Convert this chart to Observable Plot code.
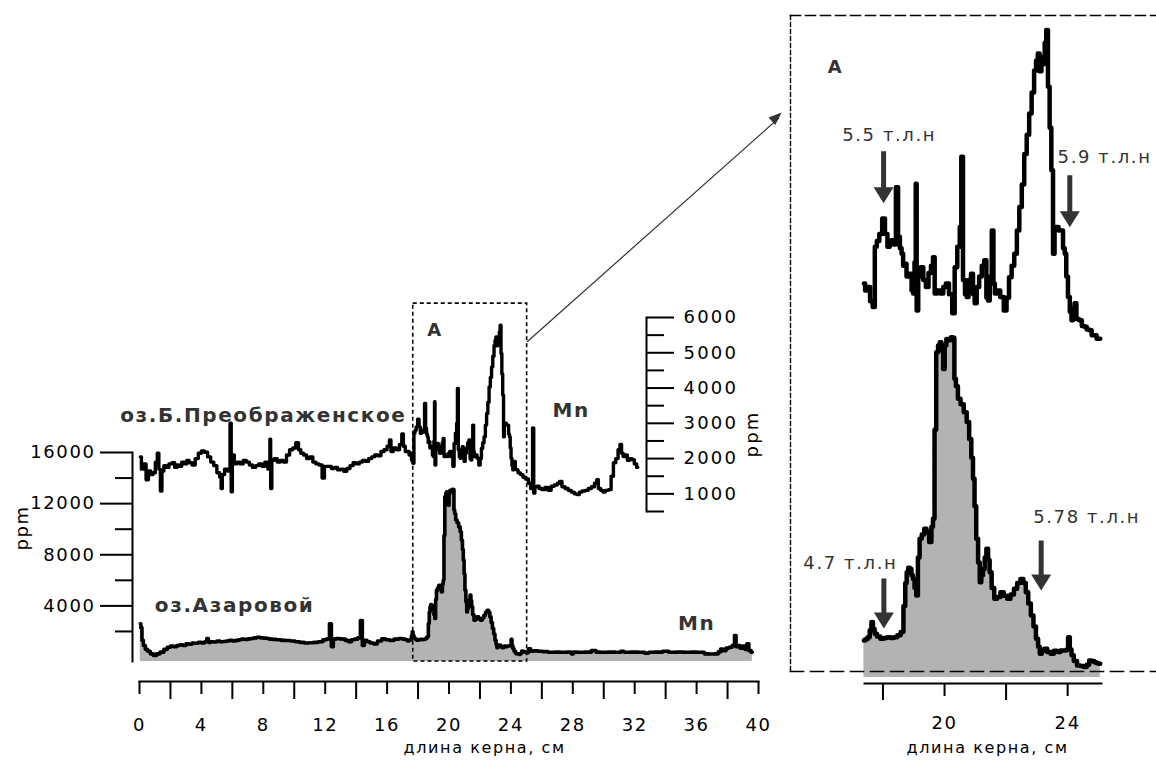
<!DOCTYPE html>
<html><head><meta charset="utf-8">
<script src="https://cdn.jsdelivr.net/npm/d3@7"></script>
<script src="https://cdn.jsdelivr.net/npm/@observablehq/plot@0.6"></script>
<style>
html,body{margin:0;padding:0;background:#fff;}
#fig{position:relative;width:1156px;height:763px;overflow:hidden;background:#fff;}
#fig svg{position:absolute;overflow:visible;background:transparent;max-width:none;}
</style></head><body><div id="fig"></div>
<script>
// ---------- DATA (depth cm, Mn ppm) ----------
// оз.Б.Преображенское
const preMn_0_17 = [[0.05,2050],[0.2,1700],[0.35,1850],[0.5,1400],[0.65,1650],[0.8,1550],[0.95,1600],[1.1,1900],[1.2,2150],[1.3,1700],[1.4,1080],[1.5,1650],[1.65,1800],[1.8,1750],[2.0,1850],[2.2,1880],[2.35,1750],[2.5,1820],[2.65,1780],[2.8,1900],[3.0,1850],[3.1,1950],[3.3,1880],[3.5,1820],[3.7,2000],[3.9,2150],[4.1,2220],[4.3,2180],[4.5,2050],[4.7,1900],[4.9,1800],[5.1,1600],[5.25,1480],[5.3,1150],[5.4,1550],[5.6,1700],[5.8,1650],[5.9,3000],[5.95,1060],[6.05,2100],[6.2,1850],[6.4,1900],[6.6,1850],[6.8,1950],[7.0,1900],[7.2,1820],[7.4,1750],[7.6,1800],[7.8,1850],[8.0,1780],[8.2,1900],[8.4,1700],[8.45,2550],[8.5,1150],[8.6,1950],[8.8,2000],[9.0,1900],[9.2,1950],[9.4,1900],[9.6,2100],[9.8,2250],[10.0,2300],[10.2,2450],[10.35,2250],[10.5,2150],[10.7,2100],[10.9,2000],[11.1,2050],[11.3,1900],[11.5,1850],[11.7,1820],[11.9,1450],[12.0,1780],[12.3,1780],[12.5,1720],[12.7,1750],[12.9,1680],[13.1,1700],[13.3,1640],[13.5,1720],[13.7,1800],[13.9,1880],[14.1,1850],[14.3,1900],[14.5,1950],[14.7,1920],[14.9,2000],[15.1,2050],[15.3,2100],[15.5,2080],[15.7,2200],[15.9,2250],[16.1,2350],[16.2,2530],[16.3,2200],[16.5,2300],[16.7,2250],[16.9,2400],[17.0,2700],[17.1,2350],[17.25,2200]];
const preMn_A = [[17.38,2200],[17.46,2100],[17.54,2150],[17.62,1950],[17.71,1870],[17.76,2720],[17.84,2800],[17.92,2900],[18.03,3120],[18.1,2900],[18.19,2720],[18.25,2800],[18.30,2810],[18.38,2750],[18.46,3560],[18.52,2860],[18.58,2700],[18.63,2620],[18.68,2450],[18.73,2480],[18.80,2300],[18.90,2340],[18.96,2100],[19.00,2060],[19.05,2500],[19.08,3610],[19.11,1820],[19.18,2300],[19.27,2430],[19.35,2250],[19.44,2150],[19.52,2350],[19.6,2450],[19.65,2570],[19.71,2060],[19.8,2100],[19.92,2060],[20.0,2150],[20.09,2200],[20.2,2050],[20.30,1780],[20.36,2430],[20.47,2720],[20.52,3000],[20.57,3990],[20.63,2250],[20.7,2050],[20.74,2010],[20.82,2250],[20.90,2340],[20.95,2050],[21.01,1920],[21.08,2150],[21.17,2300],[21.25,2450],[21.33,2530],[21.39,2000],[21.44,1960],[21.5,2300],[21.57,2950],[21.61,2200],[21.66,2060],[21.75,2100],[21.87,2010],[21.98,1820],[22.05,2000],[22.14,2290],[22.22,2450],[22.31,2620],[22.39,2950],[22.47,3280],[22.55,3600],[22.63,4030],[22.71,4300],[22.79,4600],[22.87,4900],[22.95,5210],[23.0,5350],[23.06,5450],[23.12,5200],[23.18,5400],[23.23,5300],[23.28,5600],[23.33,5780],[23.39,4980],[23.44,4400],[23.50,3800],[23.55,2620],[23.6,3000],[23.66,3000],[23.75,2950],[23.82,2950],[23.88,2700],[23.93,2620],[23.98,2300],[24.04,2010],[24.10,1800],[24.15,1680],[24.2,1850],[24.25,1920],[24.32,1700],[24.42,1680],[24.5,1600],[24.58,1590],[24.66,1550],[24.74,1540],[24.82,1470],[24.90,1470],[24.98,1420],[25.06,1420]];
const preMn_25_32 = [[25.2,1300],[25.35,1150],[25.45,2870],[25.5,1020],[25.6,1200],[25.75,1215],[25.9,1150],[26.1,1120],[26.3,1180],[26.5,1100],[26.7,1215],[26.9,1250],[27.1,1300],[27.2,1350],[27.4,1200],[27.6,1150],[27.8,1100],[28.0,1050],[28.2,1000],[28.35,980],[28.5,1050],[28.7,1080],[28.9,1100],[29.1,1150],[29.3,1200],[29.5,1300],[29.6,1400],[29.7,1150],[29.9,1100],[30.0,1050],[30.2,1100],[30.4,1120],[30.55,1500],[30.7,1880],[30.85,2000],[31.0,2250],[31.1,2400],[31.2,2150],[31.3,2060],[31.45,2100],[31.6,1950],[31.75,2000],[31.9,1970],[32.05,1850],[32.2,1750]];
// оз.Азаровой
const azMn_0_17 = [[0.05,2600],[0.12,2300],[0.2,1300],[0.3,900],[0.45,600],[0.6,450],[0.8,250],[1.0,120],[1.2,250],[1.45,380],[1.7,600],[1.9,770],[2.1,850],[2.3,800],[2.5,900],[2.7,950],[2.9,900],[3.1,1030],[3.3,1000],[3.5,1100],[3.7,1080],[3.9,1160],[4.1,1100],[4.3,1200],[4.4,1450],[4.5,1150],[4.7,1200],[4.9,1180],[5.1,1250],[5.3,1200],[5.5,1220],[5.7,1250],[5.9,1300],[6.1,1250],[6.3,1300],[6.5,1350],[6.7,1400],[6.9,1380],[7.1,1420],[7.3,1450],[7.5,1500],[7.7,1550],[7.9,1500],[8.1,1480],[8.3,1450],[8.5,1400],[8.7,1380],[9.0,1350],[9.3,1300],[9.6,1290],[9.9,1250],[10.2,1200],[10.5,1150],[10.8,1100],[11.1,1120],[11.4,1150],[11.7,1200],[12.0,1350],[12.2,1420],[12.35,2600],[12.45,800],[12.6,1400],[12.8,1450],[13.0,1420],[13.2,1400],[13.4,1300],[13.6,1200],[13.8,1350],[14.0,1400],[14.2,1500],[14.35,2860],[14.45,900],[14.6,1300],[14.8,1200],[15.0,1100],[15.25,1030],[15.5,1250],[15.8,1420],[16.0,1350],[16.3,1300],[16.6,1400],[16.9,1450],[17.1,1400],[17.25,1350]];
const azMn_A = [[17.38,1250],[17.46,1300],[17.54,1380],[17.6,1650],[17.65,1970],[17.7,1700],[17.76,1510],[17.85,1400],[17.98,1320],[18.08,1350],[18.19,1380],[18.3,1350],[18.41,1380],[18.52,1450],[18.63,1580],[18.7,2600],[18.75,3500],[18.79,3920],[18.85,4100],[18.90,4050],[18.95,3800],[19.00,3660],[19.05,3300],[19.11,3010],[19.16,4500],[19.22,5230],[19.3,5400],[19.38,5620],[19.45,5500],[19.55,5100],[19.6,5700],[19.65,6010],[19.7,9500],[19.76,12530],[19.82,12800],[19.87,12920],[19.93,12600],[19.98,11880],[20.03,12800],[20.09,13050],[20.17,13000],[20.25,13120],[20.3,13100],[20.34,11490],[20.4,11200],[20.47,10710],[20.57,10500],[20.68,10180],[20.76,9800],[20.84,9140],[20.9,8400],[20.95,7580],[21.0,6500],[21.06,5230],[21.12,4300],[21.17,3530],[21.22,3800],[21.28,4050],[21.33,4500],[21.39,4840],[21.44,4400],[21.49,3920],[21.57,3300],[21.66,2880],[21.76,2950],[21.87,3140],[21.98,3000],[22.09,2880],[22.2,3050],[22.31,3270],[22.41,3500],[22.52,3660],[22.6,3500],[22.68,3140],[22.76,2700],[22.85,2230],[22.93,1800],[23.01,1320],[23.07,1000],[23.12,730],[23.2,850],[23.28,930],[23.39,800],[23.50,730],[23.6,850],[23.71,800],[23.82,860],[23.93,860],[23.99,900],[24.04,1380],[24.1,900],[24.15,670],[24.25,450],[24.36,270],[24.47,250],[24.58,210],[24.66,300],[24.74,470],[24.82,450],[24.90,400],[24.98,360],[25.06,340]];
const azMn_25_40 = [[25.2,640],[25.35,450],[25.6,480],[25.9,450],[26.2,420],[26.6,370],[27.0,380],[27.4,370],[27.8,380],[28.0,250],[28.1,380],[28.5,370],[29.0,380],[29.4,500],[29.6,380],[30.0,370],[30.5,380],[31.0,370],[31.2,450],[31.4,370],[32.0,380],[32.5,370],[32.8,300],[33.0,370],[33.5,380],[34.1,450],[34.3,370],[35.0,380],[35.4,370],[35.8,380],[36.2,370],[36.4,370],[36.6,250],[37.0,240],[37.3,250],[37.5,400],[37.6,630],[37.8,500],[38.0,700],[38.2,760],[38.4,900],[38.5,1680],[38.6,800],[38.7,890],[38.9,700],[39.05,850],[39.2,600],[39.3,1030],[39.45,500],[39.6,370]];

const preMn = [...preMn_0_17, ...preMn_A, ...preMn_25_32];
const azMn = [...azMn_0_17, ...azMn_A, ...azMn_25_40];

// ticks & labels
const xTicksMain = [0,4,8,12,16,20,24,28,32,36,40];
const xTicksMainMinor = [2,6,10,14,18,22,26,30,34,38];
const xTicksInset = [20,24];
const xTicksInsetMinor = [18,22];
const azTicks = [4000,8000,12000,16000];
const azTicksMinor = [2000,6000,10000,14000];
const preTicks = [1000,2000,3000,4000,5000,6000];
const preTicksMinor = [500,1500,2500,3500,4500,5500];
const xTitle = "длина керна, см";
const unit = "ppm";
const lakePre = "оз.Б.Преображенское";
const lakeAz = "оз.Азаровой";
const element = "Mn";
const zoneLabel = "A";
// dated horizons (depth cm, ppm, label)
const datesPre = [{d:18.02, v:3333, label:"5.5 т.л.н", tx:18.2, tv:4294},{d:24.07, v:2994, label:"5.9 т.л.н", tx:25.2, tv:3983}];
const datesAz = [{d:18.03, v:1720, label:"4.7 т.л.н", tx:16.94, tv:4264},{d:23.14, v:3208, label:"5.78 т.л.н", tx:24.62, tv:6076}];

// ---------- helpers ----------
const X = d => d[0], Y = d => d[1];
const AZ_FLOOR = -350, AZ_INSET_FLOOR = -200;
const ZONE = [17.38, 25.06];
const FONT = "'DejaVu Sans', sans-serif";
const baseStyle = {fontFamily: FONT, fontSize: "18px", letterSpacing: "1.6px", background: "transparent", overflow: "visible", color: "#000"};
const fatArrow = {draw(ctx, l){const hw=10, hl=16, sw=2.5; ctx.moveTo(-sw,0); ctx.lineTo(-sw,-(l-hl)); ctx.lineTo(-hw,-(l-hl)); ctx.lineTo(0,-l); ctx.lineTo(hw,-(l-hl)); ctx.lineTo(sw,-(l-hl)); ctx.lineTo(sw,0); ctx.closePath();}};
const headOnly = {draw(ctx, l){const hw=5; ctx.moveTo(-hw,0); ctx.lineTo(0,-l); ctx.lineTo(hw,0); ctx.closePath();}};
const fig = document.getElementById("fig");
function place(svg, left, top){ svg.style.left = left+"px"; svg.style.top = top+"px"; fig.appendChild(svg); }
const boldLabel = {fontSize: 20, fontWeight: "bold", fill: "#333"};
const dateLabel = {fontSize: 18, fill: "#333"};
const titleLabel = {fontSize: 16};

// ---------- main panel: Azarova + left axis + x axis ----------
const mainAz = Plot.plot({
  width: 800, height: 763,
  marginLeft: 132, marginRight: 42, marginTop: 452, marginBottom: 82,
  insetLeft: 7, insetBottom: 20,
  style: baseStyle,
  x: {domain: [0, 40], axis: null},
  y: {domain: [AZ_FLOOR, 16000], axis: null},
  marks: [
    Plot.areaY(azMn, {x: X, y1: AZ_FLOOR, y2: Y, fill: "#b3b3b3", curve: "step"}),
    Plot.lineY(azMn, {x: X, y: Y, stroke: "#000", strokeWidth: 3.6, curve: "step"}),
    Plot.axisY({ticks: azTicks, tickSize: 32, tickPadding: 5, tickFormat: "d", strokeWidth: 2, label: null}),
    Plot.axisY({ticks: azTicksMinor, tickSize: 17, tickFormat: () => "", strokeWidth: 2, label: null}),
    Plot.frame({anchor: "left", insetBottom: 20, strokeWidth: 2}),
    Plot.axisX({ticks: xTicksMain, tickSize: 13, tickPadding: 24, tickFormat: "d", strokeWidth: 2, label: null}),
    Plot.axisX({ticks: xTicksMainMinor, tickSize: 18, tickFormat: () => "", strokeWidth: 2, label: null}),
    Plot.frame({anchor: "bottom", insetLeft: 7, strokeWidth: 2}),
    Plot.text([xTitle], {x: 22.3, frameAnchor: "bottom", dy: 71, ...titleLabel}),
    Plot.text([unit], {frameAnchor: "left", dx: -110, y: 8330, rotate: -90, fontSize: 18}),
    Plot.text([lakeAz], {x: 6.15, y: 4030, ...boldLabel}),
    Plot.text([element], {x: 36.0, y: 2620, ...boldLabel}),
    Plot.rect([{x1: 17.69, x2: 25.05, y1: AZ_FLOOR, y2: 27650}], {x1: "x1", x2: "x2", y1: "y1", y2: "y2", fill: "none", stroke: "#000", strokeWidth: 1.6, strokeDasharray: "4,3"})
  ]
});
place(mainAz, 0, 0);

// ---------- main panel: Preobrazhenskoe ----------
const mainPre = Plot.plot({
  width: 800, height: 763,
  marginLeft: 132, marginRight: 42, marginTop: 317, marginBottom: 252,
  insetLeft: 7,
  style: baseStyle,
  x: {domain: [0, 40], axis: null},
  y: {domain: [500, 6000], axis: null},
  marks: [
    Plot.lineY(preMn, {x: X, y: Y, stroke: "#000", strokeWidth: 3.4, curve: "step"}),
    Plot.text([lakePre], {x: 8.0, y: 3222, ...boldLabel}),
    Plot.text([element], {x: 27.9, y: 3364, ...boldLabel}),
    Plot.text([zoneLabel], {x: 19.1, y: 5630, fontSize: 18, fontWeight: "bold", fill: "#333"}),
    Plot.arrow([{x1: 25.07, y1: 5320, x2: 41.3, y2: 11650}], {x1: "x1", y1: "y1", x2: "x2", y2: "y2", headLength: 0, stroke: "#333", strokeWidth: 1.2}),
    Plot.vector([{x: 41.49, y: 11810}], {x: "x", y: "y", length: 13, rotate: 48, anchor: "end", shape: headOnly, fill: "#333", stroke: "none"})
  ]
});
place(mainPre, 0, 0);

// ---------- right axis for Preobrazhenskoe ----------
const preAxis = Plot.plot({
  width: 200, height: 763,
  marginLeft: 0, marginRight: 154, marginTop: 317, marginBottom: 252,
  style: {...baseStyle, letterSpacing: "2.2px"},
  y: {domain: [500, 6000], axis: null},
  marks: [
    Plot.axisY({ticks: preTicks, anchor: "right", tickSize: 27, tickPadding: 10, tickFormat: "d", strokeWidth: 2, label: null}),
    Plot.axisY({ticks: preTicksMinor, anchor: "right", tickSize: 17, tickFormat: () => "", strokeWidth: 2, label: null}),
    Plot.frame({anchor: "right", strokeWidth: 2}),
    Plot.text([unit], {frameAnchor: "right", dx: 106, y: 3364, rotate: -90, fontSize: 18})
  ]
});
place(preAxis, 600, 0);

// ---------- inset A: Azarova ----------
const zoneAz = azMn.filter(d => d[0] >= ZONE[0] && d[0] <= ZONE[1]);
const zonePre = preMn.filter(d => d[0] >= ZONE[0] && d[0] <= ZONE[1]);
const insetAz = Plot.plot({
  width: 376, height: 763,
  marginLeft: 84, marginRight: 55, marginTop: 327, marginBottom: 80,
  insetBottom: 6,
  style: baseStyle,
  x: {domain: [17.4, 25.1], axis: null},
  y: {domain: [AZ_INSET_FLOOR, 13500], axis: null},
  marks: [
    Plot.areaY(zoneAz, {x: X, y1: AZ_INSET_FLOOR, y2: Y, fill: "#b3b3b3", curve: "step"}),
    Plot.lineY(zoneAz, {x: X, y: Y, stroke: "#000", strokeWidth: 4.5, curve: "step"}),
    Plot.axisX({ticks: xTicksInset, tickSize: 13, tickPadding: 20, tickFormat: "d", strokeWidth: 2, label: null}),
    Plot.axisX({ticks: xTicksInsetMinor, tickSize: 17, tickFormat: () => "", strokeWidth: 2, label: null}),
    Plot.frame({anchor: "bottom", strokeWidth: 2}),
    Plot.text([xTitle], {x: 21.4, frameAnchor: "bottom", dy: 69, ...titleLabel}),
    Plot.vector(datesAz, {x: "d", y: "v", length: 50, rotate: 180, anchor: "end", shape: fatArrow, fill: "#333", stroke: "none"}),
    Plot.text(datesAz, {x: "tx", y: "tv", text: "label", ...dateLabel})
  ]
});
place(insetAz, 780, 0);

// ---------- inset A: Preobrazhenskoe ----------
const insetPre = Plot.plot({
  width: 376, height: 763,
  marginLeft: 84, marginRight: 55, marginTop: 14, marginBottom: 395,
  style: baseStyle,
  x: {domain: [17.4, 25.1], axis: null},
  y: {domain: [1000, 6000], axis: null},
  marks: [
    Plot.lineY(zonePre, {x: X, y: Y, stroke: "#000", strokeWidth: 4.5, curve: "step"}),
    Plot.text([zoneLabel], {x: 16.46, y: 5254, fontSize: 18, fontWeight: "bold", fill: "#333"}),
    Plot.vector(datesPre, {x: "d", y: "v", length: 52, rotate: 180, anchor: "end", shape: fatArrow, fill: "#333", stroke: "none"}),
    Plot.text(datesPre, {x: "tx", y: "tv", text: "label", ...dateLabel})
  ]
});
place(insetPre, 780, 0);

// ---------- inset border ----------
const border = Plot.plot({
  width: 420, height: 656, margin: 0,
  style: {background: "transparent", overflow: "visible"},
  marks: [
    Plot.frame({anchor: "top", strokeWidth: 1.6, strokeDasharray: "10,5"}),
    Plot.frame({anchor: "left", strokeWidth: 1.4, strokeDasharray: "4,3"}),
    Plot.frame({anchor: "bottom", strokeWidth: 1.6, strokeDasharray: "13,7"})
  ]
});
place(border, 790, 15);
</script></body></html>
